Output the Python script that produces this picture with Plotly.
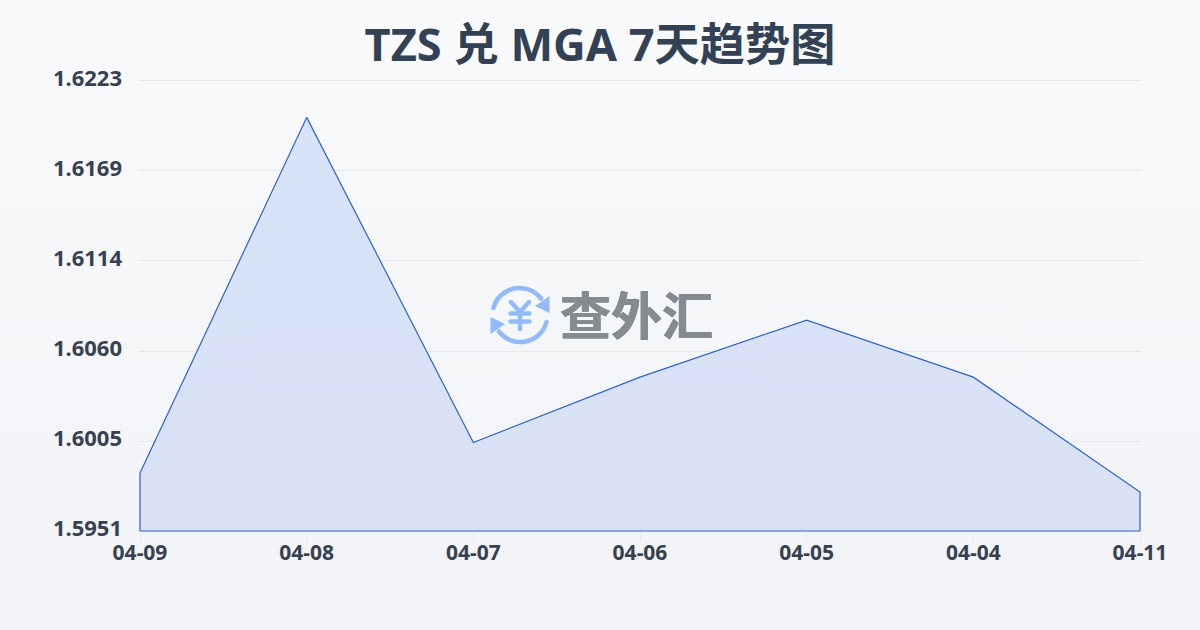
import base64
import plotly.graph_objects as go

TITLE = "TZS 兑 MGA 7天趋势图"
WATERMARK = "查外汇"
dates = ["04-09", "04-08", "04-07", "04-06", "04-05", "04-04", "04-11"]
rates = [1.5986, 1.6201, 1.60045, 1.6044, 1.60785, 1.6044, 1.59745]
y_ticks = [1.5951, 1.60054, 1.60598, 1.61142, 1.61686, 1.6223]
y_labels = ["1.5951", "1.6005", "1.6060", "1.6114", "1.6169", "1.6223"]
y_floor = 1.5951
y_bottom = 1.59504
y_top = 1.62242

L, R, T, B = 139, 59, 79, 98
PW, PH = 1200 - L - R, 630 - T - B


def uri(svg):
    return "data:image/svg+xml;base64," + base64.b64encode(svg.encode()).decode()


bg = uri('<svg xmlns="http://www.w3.org/2000/svg" width="1200" height="630" preserveAspectRatio="none">'
         '<defs><linearGradient id="g" x1="0" y1="0" x2="0" y2="1"><stop offset="0" stop-color="#f8fafc"/>'
         '<stop offset="1" stop-color="#f1f3f6"/></linearGradient></defs>'
         '<rect width="1200" height="630" fill="url(#g)"/></svg>')
icon = uri('<svg xmlns="http://www.w3.org/2000/svg" viewBox="0 0 60 60" width="60" height="60">'
           '<g fill="none" stroke="#93bbfb" stroke-width="4.6" stroke-linecap="round">'
           '<path d="M3.5 23 A27 27 0 0 1 51 13.5"/><path d="M56.5 37 A27 27 0 0 1 9 46.5"/>'
           '<path d="M21 17 L30 27 L39 17 M20.5 28.5 H39.5 M20.5 36.5 H39.5 M30 27 V44" stroke-width="4.4"/></g>'
           '<path d="M59.5 11 V28 L45 21 Z M0.5 49 V32 L15 39 Z" fill="#93bbfb"/></svg>')

fig = go.Figure(go.Scatter(
    x=dates + [dates[-1], dates[0], dates[0]],
    y=rates + [y_floor, y_floor, rates[0]],
    mode="lines",
    line=dict(color="#2f62c9", width=1.2),
    fill="toself",
    fillgradient=dict(type="vertical",
                      colorscale=[[0, "rgba(216,224,244,0.95)"], [1, "rgba(214,226,247,0.95)"]]),
    hoverinfo="skip",
))
fig.update_layout(
    width=1200, height=630, autosize=False,
    margin=dict(l=L, r=R, t=T, b=B),
    paper_bgcolor="#f5f7fa", plot_bgcolor="rgba(0,0,0,0)",
    showlegend=False,
    font=dict(family="Noto Sans, Noto Sans CJK SC, sans-serif", color="#374151"),
    title=dict(text=f"<b>{TITLE}</b>", x=0.5, xanchor="center", y=0.928, yanchor="middle",
               font=dict(size=45.2, color="#334155", family="Noto Sans, Noto Sans CJK SC, sans-serif")),
    xaxis=dict(type="category", categoryorder="array", categoryarray=dates, range=[-0.006, 6.006],
               showgrid=False, zeroline=False, showline=False,
               ticks="outside", ticklen=9, tickwidth=1, tickcolor="#e5e7eb",
               ticklabelstandoff=-7,
               tickfont=dict(size=21, color="#374151", family="Noto Sans", weight="bold")),
    yaxis=dict(range=[y_bottom, y_top], tickmode="array", tickvals=y_ticks, ticktext=y_labels,
               showgrid=True, gridcolor="#e5e7eb", gridwidth=1, zeroline=False, showline=False,
               ticks="", ticklabelstandoff=16, ticklabelshift=-3,
               tickfont=dict(size=22, color="#374151", family="Noto Sans", weight="bold")),
    images=[
        dict(source=bg, xref="paper", yref="paper", x=-L / PW, y=(PH + T) / PH, sizex=1200 / PW, sizey=630 / PH,
             xanchor="left", yanchor="top", sizing="stretch", layer="below"),
        dict(source=icon, xref="paper", yref="paper", x=(490 - L) / PW, y=(532 - 285) / PH,
             sizex=60 / PW, sizey=60 / PH, xanchor="left", yanchor="top", sizing="stretch", layer="above"),
    ],
    annotations=[dict(text=f"<b>{WATERMARK}</b>", xref="paper", yref="paper",
                      x=(636 - L) / PW, y=(532 - 313) / PH, xanchor="center", yanchor="middle",
                      showarrow=False,
                      font=dict(size=51, color="#868b92", family="Noto Sans CJK SC", weight=900,
                                shadow="0.4px 0 0 #868b92, -0.4px 0 0 #868b92, 0 0.4px 0 #868b92, 0 -0.4px 0 #868b92"))],
)
fig.write_html("out.html", config={"displayModeBar": False},
               post_script="document.body.style.margin='0';")
